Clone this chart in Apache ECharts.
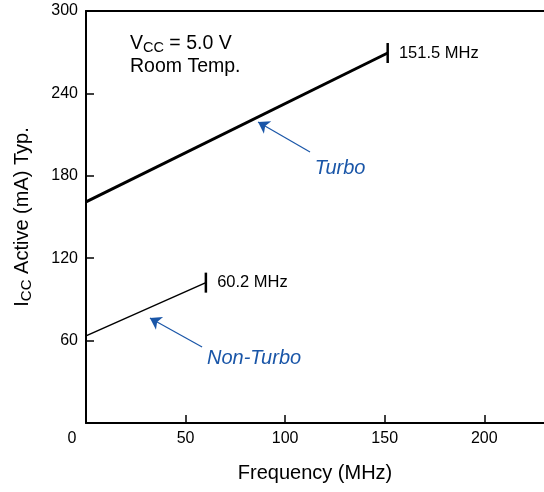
<!DOCTYPE html>
<html><head><meta charset="utf-8">
<script src="https://cdn.jsdelivr.net/npm/echarts@6/dist/echarts.min.js"></script>
<style>html,body{margin:0;padding:0;background:#fff}#c{width:544px;height:492px}</style>
</head><body><div id="c"></div>
<script>
// Data
const turboFreq = [0, 151.5];
const turboIcc = [161, 269.4];
const nonTurboFreq = [0, 60.2];
const nonTurboIcc = [63.4, 102.2];
const endLabels = ['151.5 MHz', '60.2 MHz'];
const xTickValues = [0, 50, 100, 150, 200];
const yTickValues = [0, 60, 120, 180, 240, 300];
// annotation anchors (data coords)
const turboText = [127.6, 185.7];
const nonTurboText = [84.4, 47.3];
const turboArrow = [[112.5, 197.3], [86.4, 219.2]];
const nonTurboArrow = [[58.3, 55.3], [32.1, 76.5]];

const FONT = 'Liberation Sans, Arial, sans-serif';
const BLUE = '#1a56a8';

function seriesData(xs, ys, label) {
  return xs.map((x, i) => {
    const last = i === xs.length - 1;
    return last ? {
      value: [x, ys[i]], symbol: 'rect', symbolSize: [2.5, 20],
      label: { show: true, position: 'right', distance: 10, formatter: label,
               color: '#000', fontSize: 16.5, fontFamily: FONT }
    } : { value: [x, ys[i]], symbol: 'none' };
  });
}

function arrowLine(pts) {
  return {
    silent: true, symbol: ['none', 'arrow'], symbolSize: 11,
    lineStyle: { color: BLUE, width: 1.2, type: 'solid', opacity: 1 },
    itemStyle: { color: BLUE },
    label: { show: false },
    emphasis: { disabled: true },
    data: [[{ coord: pts[0] }, { coord: pts[1] }]]
  };
}

const chart = echarts.init(document.getElementById('c'), null, { renderer: 'canvas' });
chart.setOption({
  animation: false,
  backgroundColor: '#fff',
  grid: { left: 86, right: 0, top: 11, bottom: 69 },
  xAxis: [{
    type: 'value', min: xTickValues[0], max: 230, interval: 50, position: 'bottom',
    name: 'Frequency (MHz)', nameLocation: 'middle', nameGap: 40,
    nameTextStyle: { fontSize: 20, fontFamily: FONT, color: '#000' },
    axisLine: { show: true, lineStyle: { color: '#000', width: 2 } },
    axisTick: { show: true, inside: true, length: 8, lineStyle: { color: '#000', width: 1.5 } },
    axisLabel: {
      showMaxLabel: false, margin: 8, fontSize: 16, fontFamily: FONT, color: '#000',
      formatter: v => xTickValues.includes(v) ? (v === 0 ? '{z|0}' : String(v)) : '',
      rich: { z: { fontSize: 16, fontFamily: FONT, color: '#000', padding: [0, 28, 0, 0] } }
    },
    splitLine: { show: false }
  }, {
    type: 'value', min: 0, max: 230, position: 'top',
    axisLine: { show: true, lineStyle: { color: '#000', width: 2 } },
    axisTick: { show: false }, axisLabel: { show: false }, splitLine: { show: false }
  }],
  yAxis: {
    type: 'value', min: yTickValues[0], max: yTickValues[yTickValues.length - 1], interval: 60,
    name: '{a|I}{b|CC}{a| Active (mA) Typ.}', nameLocation: 'middle', nameGap: 52, nameRotate: 90,
    nameTextStyle: {
      rich: {
        a: { fontSize: 20, fontFamily: FONT, color: '#000', lineHeight: 24 },
        b: { fontSize: 15, fontFamily: FONT, color: '#000', lineHeight: 24, padding: [10, 0, 0, 0] }
      }
    },
    axisLine: { show: true, lineStyle: { color: '#000', width: 2 } },
    axisTick: { show: true, inside: true, length: 8, lineStyle: { color: '#000', width: 1.5 } },
    axisLabel: { margin: 8, fontSize: 16, fontFamily: FONT, color: '#000',
                 formatter: v => v === 0 ? '' : String(v) },
    splitLine: { show: false }
  },
  series: [
    {
      name: 'Turbo', type: 'line', data: seriesData(turboFreq, turboIcc, endLabels[0]),
      lineStyle: { color: '#000', width: 3 }, itemStyle: { color: '#000' },
      markLine: arrowLine(turboArrow)
    },
    {
      name: 'Non-Turbo', type: 'line', data: seriesData(nonTurboFreq, nonTurboIcc, endLabels[1]),
      lineStyle: { color: '#000', width: 1.5 }, itemStyle: { color: '#000' },
      markLine: arrowLine(nonTurboArrow)
    },
    {
      type: 'scatter', symbolSize: 0, silent: true,
      itemStyle: { opacity: 1 },
      data: [{ value: turboText, name: 'Turbo' }, { value: nonTurboText, name: 'Non-Turbo' }],
      label: { show: true, position: 'inside', formatter: '{b}', color: BLUE,
               fontSize: 20, fontStyle: 'italic', fontFamily: FONT }
    }
  ],
  graphic: [{
    type: 'text', left: 130, top: 32,
    style: {
      text: '{a|V}{b|CC}{a| = 5.0 V}\n{a|Room Temp.}',
      rich: {
        a: { fontSize: 19.5, fontFamily: FONT, fill: '#000', lineHeight: 23 },
        b: { fontSize: 14.5, fontFamily: FONT, fill: '#000', lineHeight: 23, padding: [8, 0, 0, 0] }
      }
    }
  }]
});
</script></body></html>
